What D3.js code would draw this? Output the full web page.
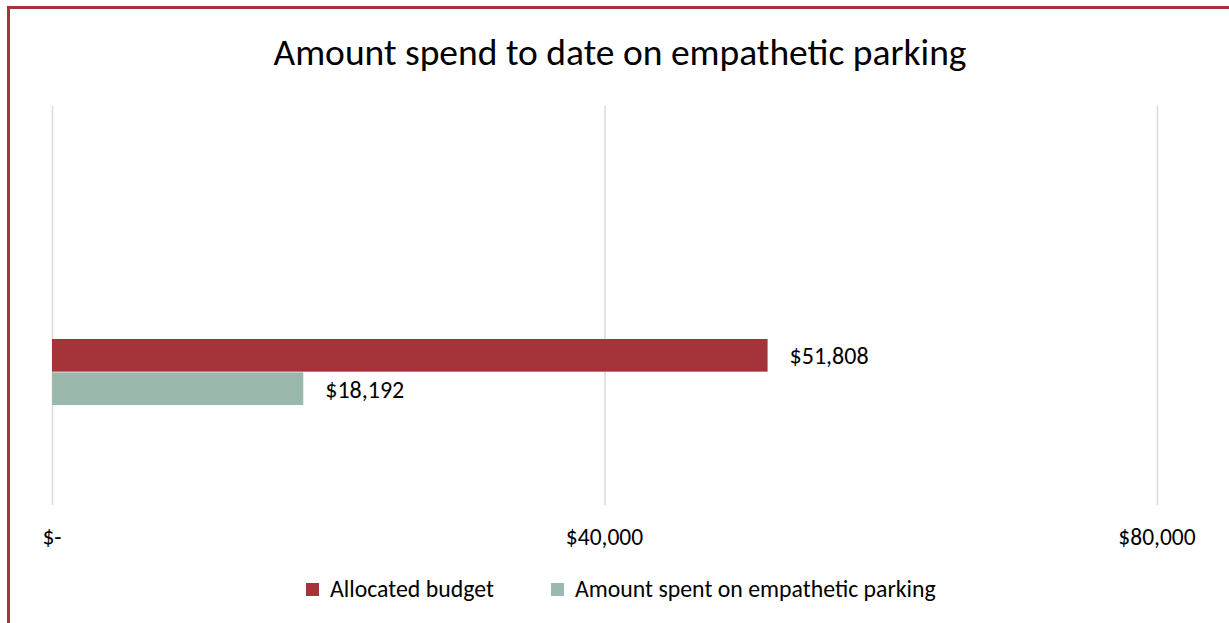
<!DOCTYPE html>
<html><head><meta charset="utf-8">
<script src="https://cdn.jsdelivr.net/npm/d3@7"></script>
<style>
html,body{margin:0;padding:0;background:#fff;}
svg{display:block;}
text{font-family:Carlito,Lato,"Open Sans",sans-serif;fill:#000;}
</style></head><body>
<svg id="chart" width="1229" height="623"></svg>
<script>
const title = "Amount spend to date on empathetic parking";
const seriesNames = ["Allocated budget", "Amount spent on empathetic parking"];
const seriesValues = [51808, 18192];
const seriesColors = ["#A4343A", "#9BB8AC"];
const tickValues = [0, 40000, 80000];
const tickLabels = ["$-", "$40,000", "$80,000"];

const svg = d3.select("#chart");
svg.append("rect").attr("x", 0).attr("y", 0).attr("width", 1229).attr("height", 623).attr("fill", "#fff");
// frame (cropped at right and bottom)
svg.append("rect").attr("x", 8.5).attr("y", 7.5).attr("width", 1300).attr("height", 700)
  .attr("fill", "none").attr("stroke", "#A4343A").attr("stroke-width", 3);

const x = d3.scaleLinear().domain([0, 80000]).range([52, 1157]);
const y = d3.scaleBand().domain(seriesNames).range([339, 405]).paddingInner(0.02);
const plotTop = 106, plotBottom = 505;

svg.append("text").attr("x", 620).attr("y", 65).attr("text-anchor", "middle")
  .style("font-size", "37.5px").text(title);

svg.selectAll("line.grid").data(tickValues).enter().append("line")
  .attr("class", "grid")
  .attr("x1", d => x(d) + 0.5).attr("x2", d => x(d) + 0.5)
  .attr("y1", plotTop).attr("y2", plotBottom)
  .attr("stroke", "#d9d9d9").attr("stroke-width", 1.5);

svg.selectAll("text.tick").data(tickValues).enter().append("text")
  .attr("class", "tick")
  .attr("x", d => x(d)).attr("y", 545).attr("text-anchor", "middle")
  .style("font-size", "23.5px").text((d, i) => tickLabels[i]);

svg.selectAll("rect.bar").data(seriesValues).enter().append("rect")
  .attr("class", "bar")
  .attr("x", x(0)).attr("y", (d, i) => y(seriesNames[i]))
  .attr("width", d => x(d) - x(0)).attr("height", y.bandwidth())
  .attr("fill", (d, i) => seriesColors[i]);

svg.selectAll("text.lbl").data(seriesValues).enter().append("text")
  .attr("class", "lbl")
  .attr("x", d => x(d) + 22).attr("y", (d, i) => y(seriesNames[i]) + y.bandwidth() / 2 + 9)
  .style("font-size", "24px").text(d => "$" + d3.format(",")(d));

const legX = [306, 551];
const lg = svg.selectAll("g.leg").data(seriesNames).enter().append("g")
  .attr("class", "leg").attr("transform", (d, i) => `translate(${legX[i]},583)`);
lg.append("rect").attr("width", 13).attr("height", 13).attr("fill", (d, i) => seriesColors[i]);
lg.append("text").attr("x", 24).attr("y", 14).style("font-size", "23.8px").text(d => d);
</script>
</body></html>
